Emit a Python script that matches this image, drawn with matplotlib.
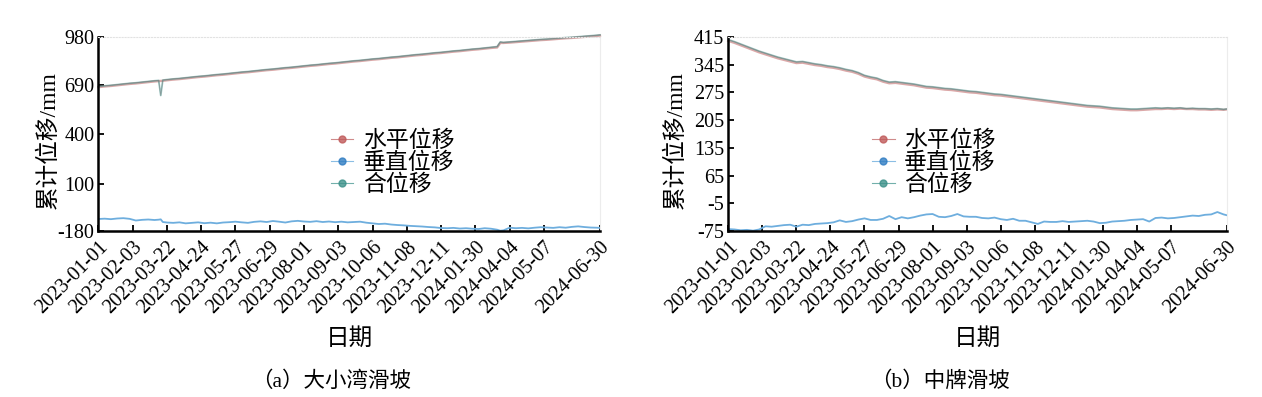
import numpy as np
import matplotlib
matplotlib.use('Agg')
import matplotlib.pyplot as plt
from matplotlib.lines import Line2D

plt.rcParams['font.family'] = ['Liberation Serif', 'Noto Sans CJK SC']
plt.rcParams['axes.unicode_minus'] = False

#%% data (readings by sample number, 484 daily records with gaps)

tick_labels = ['2023-01-01', '2023-02-03', '2023-03-22', '2023-04-24', '2023-05-27',
               '2023-06-29', '2023-08-01', '2023-09-03', '2023-10-06', '2023-11-08',
               '2023-12-11', '2024-01-30', '2024-04-04', '2024-05-07', '2024-06-30']
tick_samples = [0, 33, 66, 99, 132, 165, 198, 231, 264, 297, 330, 363, 396, 429, 483]
n_samples = 484

# (a) 大小湾滑坡
sample_a = sorted(set(range(0, 481, 6)) | {58, 62, 387, 483})
horiz_a = [680, 684, 687, 691, 695, 699, 702, 706, 710, 714,
           716, 717, 718, 721, 725, 728, 732, 736, 740, 743,
           747, 751, 754, 758, 762, 766, 769, 773, 777, 781,
           784, 788, 792, 795, 799, 803, 807, 810, 814, 818,
           821, 825, 829, 833, 836, 840, 844, 847, 851, 855,
           858, 862, 866, 870, 873, 877, 881, 884, 888, 892,
           895, 899, 903, 906, 910, 914, 917, 944, 944, 946,
           949, 952, 955, 958, 961, 963, 966, 969, 972, 974,
           977, 980, 983, 986, 988]
vert_a = [-108, -106, -109, -105, -103, -107, -117, -113, -111, -114,
          -112, -110, -126, -129, -131, -128, -134, -131, -128, -133,
          -130, -134, -129, -127, -124, -128, -131, -125, -122, -126,
          -120, -124, -129, -122, -119, -123, -125, -121, -126, -123,
          -127, -124, -128, -126, -124, -130, -134, -138, -136, -141,
          -144, -146, -149, -151, -153, -156, -158, -162, -163, -161,
          -165, -163, -166, -168, -163, -166, -172, -178, -176, -160,
          -163, -161, -164, -160, -157, -159, -161, -157, -160, -155,
          -152, -156, -159, -160, -161]
total_a = [684, 688, 691, 695, 699, 703, 706, 710, 714, 718,
           720, 630, 722, 725, 729, 732, 736, 740, 744, 747,
           751, 755, 758, 762, 766, 770, 773, 777, 781, 785,
           788, 792, 796, 799, 803, 807, 811, 814, 818, 822,
           825, 829, 833, 837, 840, 844, 848, 851, 855, 859,
           862, 866, 870, 874, 877, 881, 885, 888, 892, 896,
           899, 903, 907, 910, 914, 918, 922, 950, 947, 950,
           953, 956, 959, 962, 965, 967, 970, 973, 976, 978,
           981, 984, 987, 990, 992]

# (b) 中牌滑坡
sample_b = list(range(0, 481, 6)) + [483]
horiz_b = [405, 400, 394, 388, 382, 376, 371, 366, 361, 357,
           353, 349, 350, 347, 344, 342, 339, 337, 334, 330,
           327, 322, 315, 311, 308, 302, 298, 299, 297, 295,
           293, 290, 287, 286, 284, 282, 281, 279, 277, 275,
           274, 272, 270, 268, 267, 265, 263, 261, 259, 257,
           255, 253, 251, 249, 247, 245, 243, 241, 239, 238,
           237, 235, 233, 232, 231, 230, 230, 231, 232, 233,
           233, 234, 233, 234, 233, 233, 232, 232, 231, 232,
           231, 232]
vert_b = [-70, -71, -73, -72, -74, -71, -63, -64, -62, -60,
          -59, -64, -59, -60, -57, -56, -55, -53, -48, -52,
          -50, -46, -43, -47, -47, -44, -37, -45, -40, -43,
          -40, -36, -33, -32, -39, -40, -37, -32, -38, -39,
          -39, -42, -43, -41, -45, -47, -44, -49, -49, -53,
          -57, -51, -52, -52, -50, -52, -51, -50, -49, -51,
          -55, -54, -51, -50, -49, -47, -46, -45, -51, -42,
          -41, -43, -42, -40, -38, -36, -37, -34, -33, -27,
          -33, -35]
total_b = [408, 403, 397, 391, 385, 379, 374, 369, 364, 360,
           356, 352, 353, 350, 347, 345, 342, 340, 337, 333,
           330, 325, 318, 314, 311, 305, 301, 302, 300, 298,
           296, 293, 290, 289, 287, 285, 284, 282, 280, 278,
           277, 275, 273, 271, 270, 268, 266, 264, 262, 260,
           258, 256, 254, 252, 250, 248, 246, 244, 242, 241,
           240, 238, 236, 235, 234, 233, 233, 234, 235, 236,
           235, 236, 235, 236, 234, 235, 234, 234, 233, 234,
           232, 233]

yticks_a = [-180, 100, 400, 690, 980]
yticks_b = [-75, -5, 65, 135, 205, 275, 345, 415]

series_names = ['水平位移', '垂直位移', '合位移']
line_colors = ['#c46e6e', '#6eaede', '#4f9c96']
marker_colors = ['#c05a5a', '#2f7cc2', '#3d918a']

#%% plotting

fig = plt.figure(figsize=(12.62, 3.97), dpi=100)
ax_a = fig.add_axes([0.078, 0.418, 0.3974, 0.489])
ax_b = fig.add_axes([0.5771, 0.418, 0.3949, 0.489])


def draw_panel(ax, samples, horiz, vert, total, yticks, caption, cap_x, leg_pos, ylab_x):
    ax.plot(samples, horiz, color=line_colors[0], lw=1.7, alpha=0.6, clip_on=False)
    ax.plot(samples, vert, color=line_colors[1], lw=1.3)
    ax.plot(samples, total, color=line_colors[2], lw=1.3, alpha=0.55, clip_on=False)
    ax.plot(samples, total, color='#707070', lw=0.6, alpha=0.5, clip_on=False)
    ax.set_xlim(0, n_samples - 1)
    ax.set_ylim(yticks[0], yticks[-1])
    ax.set_yticks(yticks)
    ax.set_xticks(tick_samples)
    ax.set_xticklabels(tick_labels, rotation=45, ha='right', rotation_mode='anchor')
    ax.tick_params(direction='in', length=4, width=1.3, labelsize=14.5, pad=3)
    ax.tick_params(axis='x', pad=5)
    for side in ['left', 'bottom']:
        ax.spines[side].set_linewidth(1.8)
    ax.spines['top'].set_color('#e2e2e2')
    ax.spines['top'].set_linestyle(':')
    ax.spines['right'].set_color('#ececec')
    ax.set_ylabel('累计位移/mm', fontsize=17)
    ax.yaxis.set_label_coords(ylab_x, 0.47)
    ax.set_xlabel('日期', fontsize=17, labelpad=7)

    handles = [Line2D([], [], color=line_colors[i], marker='o', markersize=5,
                      markerfacecolor=marker_colors[i], markeredgecolor=marker_colors[i],
                      lw=0.8, alpha=0.8) for i in range(3)]
    ax.legend(handles, series_names, loc='center left', frameon=False, fontsize=16.5,
              handlelength=1.0, handletextpad=0.4, labelspacing=0.03, borderpad=0,
              bbox_to_anchor=leg_pos)
    fig.text(cap_x, 0.025, caption, fontsize=15.5, ha='center')


draw_panel(ax_a, sample_a, horiz_a, vert_a, total_a, yticks_a, '（a）大小湾滑坡', 0.262,
           (0.44, 0.35), -0.077)
draw_panel(ax_b, sample_b, horiz_b, vert_b, total_b, yticks_b, '（b）中牌滑坡', 0.745,
           (0.265, 0.35), -0.083)

fig.savefig('out.png', dpi=100)
